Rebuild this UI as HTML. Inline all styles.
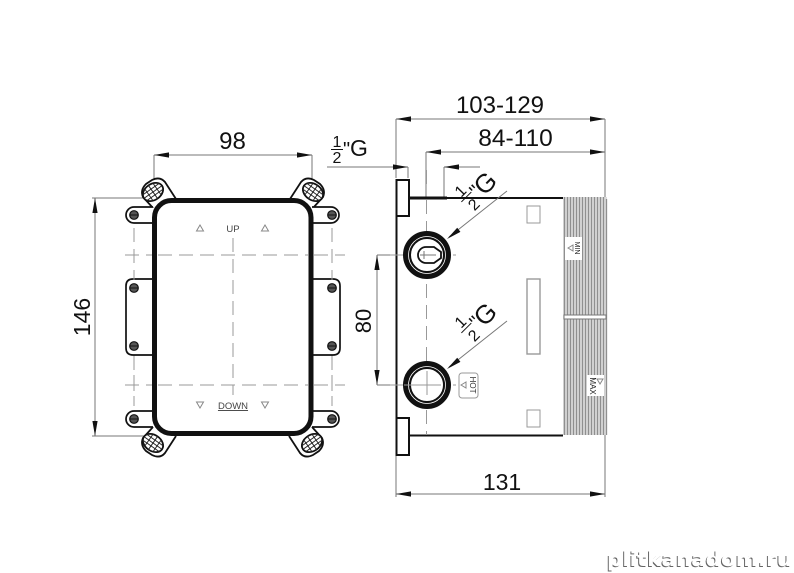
<!DOCTYPE html>
<html><head><meta charset="utf-8"><style>
html,body{margin:0;padding:0;background:#fff}
svg{display:block}
text{font-family:"Liberation Sans",sans-serif;fill:#111}
.g{stroke:#777;stroke-width:1;fill:none}
.d{stroke:#999;stroke-width:1;fill:none;stroke-dasharray:14 7}
.t{stroke:#888;stroke-width:1;fill:#fff}
</style></head><body>
<svg width="794" height="573" viewBox="0 0 794 573" xmlns="http://www.w3.org/2000/svg">
<defs>
<g id="br">
<path d="M153 208L143 197Q140 190 146 184L152 180Q160 176 165 182L176 199" fill="#fff" stroke="#111" stroke-width="1.800"/>
<g transform="translate(153 192) rotate(-35)">
<ellipse rx="11" ry="8" fill="#fff" stroke="#111" stroke-width="1.800"/>
<path d="M-5-7V7M0-8V8M5-7V7M-10-3.500H10M-10 0H10M-10 3.500H10" stroke="#222" stroke-width="1" fill="none"/>
</g>
</g>
<g id="sc"><circle r="4.300" fill="#555" stroke="#111" stroke-width="1.200"/><path d="M-4 0H4" stroke="#111" stroke-width="1"/></g>
<path id="ar" d="M0 0L15-2.600V2.600Z" fill="#111"/>
<g id="frac">
<text x="-4" y="-7" font-size="16" text-anchor="middle">1</text>
<path d="M-11-4H3" stroke="#111"/>
<text x="-4" y="12" font-size="16" text-anchor="middle">2</text>
<text x="3" y="5" font-size="20">"</text>
<text x="9" y="8.500" font-size="26">G</text>
</g>
</defs>
<rect width="794" height="573" fill="#fff"/>

<!-- LEFT VIEW dims -->
<path class="g" d="M154 155V184M312 155V184M154 155H312M92 198H150M92 436H150M95 198V436"/>
<use href="#ar" x="154" y="155"/><use href="#ar" transform="translate(312 155) rotate(180)"/>
<use href="#ar" transform="translate(95 198) rotate(90)"/><use href="#ar" transform="translate(95 436) rotate(-90)"/>
<text x="232.500" y="149" font-size="24" text-anchor="middle">98</text>
<text transform="translate(90 317) rotate(-90)" font-size="23" text-anchor="middle">146</text>

<!-- centre lines -->
<path class="d" d="M125 255H345M125 385H345"/>
<path class="d" d="M134 228V406M332 228V406M233 238V395"/>

<!-- brackets -->
<use href="#br"/>
<use href="#br" transform="translate(466 0) scale(-1 1)"/>
<use href="#br" transform="translate(0 635) scale(1 -1)"/>
<use href="#br" transform="translate(465 635) scale(-1 -1)"/>

<!-- lugs -->
<g fill="#fff" stroke="#111" stroke-width="1.700">
<path d="M153 207H134A8 8 0 0 0 134 223H153"/>
<path d="M153 279H133Q126 279 126 286V348Q126 355 133 355H153"/>
<path d="M153 411H134A8 8 0 0 0 134 427H153"/>
<path d="M312 207H331A8 8 0 0 1 331 223H312"/>
<path d="M312 279H333Q340 279 340 286V348Q340 355 333 355H312"/>
<path d="M312 411H331A8 8 0 0 1 331 427H312"/>
</g>
<path class="d" d="M134 228V280M134 356V406M332 228V280M332 356V406"/>
<use href="#sc" x="134" y="215"/><use href="#sc" x="134" y="288"/><use href="#sc" x="134" y="346"/><use href="#sc" x="134" y="419"/>
<use href="#sc" x="332" y="215"/><use href="#sc" x="332" y="288"/><use href="#sc" x="332" y="346"/><use href="#sc" x="332" y="419"/>

<!-- panel -->
<rect x="154.500" y="200.500" width="156.500" height="233" rx="17" fill="#fff" stroke="#111" stroke-width="5"/>
<path class="d" d="M158 255H308M158 385H308M233 238V395"/>
<path class="t" d="M200 225L203.500 231H196.500ZM265 225L268.500 231H261.500ZM200 408L203.500 402H196.500ZM265 408L268.500 402H261.500Z"/>
<text x="233" y="232" font-size="9.500" text-anchor="middle" style="fill:#444">UP</text>
<text x="233" y="409" font-size="9.500" text-anchor="middle" style="fill:#444;text-decoration:underline">DOWN</text>

<!-- RIGHT VIEW dims -->
<path class="g" d="M396 119V178M605 119V197M396 119H605M426 152V197M426 152H605M444 167V197M444 167H480M327 167H408M408 167V178M396 455V497M605 435V497M396 494H605M377 255H404M377 385H404M377 255V385"/>
<use href="#ar" x="396" y="119"/><use href="#ar" transform="translate(605 119) rotate(180)"/>
<use href="#ar" x="426" y="152"/><use href="#ar" transform="translate(605 152) rotate(180)"/>
<use href="#ar" x="444" y="167"/><use href="#ar" transform="translate(408 167) rotate(180)"/>
<use href="#ar" x="396" y="494"/><use href="#ar" transform="translate(605 494) rotate(180)"/>
<use href="#ar" transform="translate(377 255) rotate(90)"/><use href="#ar" transform="translate(377 385) rotate(-90)"/>
<text x="500" y="113" font-size="24" text-anchor="middle">103-129</text>
<text x="515.500" y="146" font-size="24.500" text-anchor="middle">84-110</text>
<text x="502" y="490" font-size="23" text-anchor="middle">131</text>
<text transform="translate(371 321) rotate(-90)" font-size="22" text-anchor="middle">80</text>

<!-- 1/2 G top-left -->
<text x="337" y="147" font-size="16" text-anchor="middle">1</text>
<path d="M331 149.500H343" stroke="#111" stroke-width="1"/>
<text x="337" y="163" font-size="16" text-anchor="middle">2</text>
<text x="343" y="156" font-size="20">"</text>
<text x="350" y="156" font-size="23">G</text>

<!-- threads -->
<rect x="563" y="197" width="44" height="238" fill="#dcdcdc"/>
<g stroke="#8f8f8f" stroke-width="1.300">
<path d="M564.500 197V435M567.500 197V435M570.500 197V435M573.500 197V435M576.500 197V435M579.500 197V435M582.500 197V435M585.500 197V435M588.500 197V435M591.500 197V435M594.500 197V435M597.500 197V435M600.500 197V435M603.500 197V435M606.500 199V435"/>
</g>
<rect x="564" y="315" width="42" height="4" fill="#fff" stroke="#777" stroke-width="1"/>
<rect x="565" y="237" width="17" height="23" fill="#fff"/>
<rect x="587" y="375" width="17" height="21" fill="#fff"/>
<path class="t" d="M568 248L573 245V251Z"/>
<path class="t" d="M600 384L597 379H603Z"/>
<text transform="translate(575 248) rotate(90)" font-size="7" style="fill:#222" text-anchor="middle">MIN</text>
<text transform="translate(590 386) rotate(90)" font-size="8" style="fill:#222" text-anchor="middle">MAX</text>

<!-- body -->
<path d="M409 198H447" stroke="#111" stroke-width="3" fill="none"/>
<path d="M447 198H563M409 435.500H563" stroke="#111" stroke-width="2" fill="none"/>
<path d="M396.500 180V455" stroke="#111" stroke-width="2" fill="none"/>
<rect x="396.500" y="180" width="12.500" height="36" fill="#fff" stroke="#111" stroke-width="2"/>
<rect x="396.500" y="418" width="12.500" height="37" fill="#fff" stroke="#111" stroke-width="2"/>

<rect x="527" y="206" width="13" height="17" fill="none" stroke="#999" stroke-width="1"/>
<rect x="527" y="279" width="13" height="75" fill="none" stroke="#999" stroke-width="1.400"/>
<rect x="527" y="410" width="13" height="17" fill="none" stroke="#999" stroke-width="1"/>

<!-- port centre lines -->
<path class="d" d="M426.500 170V190M426.500 200V435M390 255H456M390 385H456"/>

<!-- ports -->
<circle cx="427" cy="255" r="20" fill="#fff" stroke="#111" stroke-width="8"/>
<circle cx="427" cy="255" r="18.500" fill="none" stroke="#fff" stroke-width="0.800"/>
<path d="M426 247H434L441 252V258L434 263H426A8 8 0 0 1 426 247Z" fill="#fff" stroke="#111" stroke-width="1.800"/>
<path d="M424 251V259M420 255H436" stroke="#777" stroke-width="1"/>

<circle cx="427" cy="385" r="20" fill="#fff" stroke="#111" stroke-width="8"/>
<circle cx="427" cy="385" r="18.500" fill="none" stroke="#fff" stroke-width="0.800"/>
<path d="M404 385H441M427 371V395" stroke="#999" stroke-width="1"/>

<!-- HOT -->
<rect x="459" y="373" width="19" height="25" rx="3" fill="#fff" stroke="#999" stroke-width="1"/>
<path class="t" d="M461 385L466 382V388Z"/>
<text transform="translate(470 385) rotate(90)" font-size="8" style="fill:#333" text-anchor="middle">HOT</text>

<!-- leaders -->
<path d="M507 191L449 237M507 321L449 367" stroke="#777" stroke-width="1" fill="none"/>
<use href="#ar" transform="translate(447 239) rotate(-38)"/>
<use href="#ar" transform="translate(447 369) rotate(-38)"/>

<!-- rotated 1/2 G -->
<use href="#frac" transform="translate(472 197) rotate(-45)"/>
<use href="#frac" transform="translate(472 328) rotate(-45)"/>

<!-- watermark -->
<text x="606" y="567" font-size="20" font-weight="bold" textLength="185" lengthAdjust="spacingAndGlyphs" style="font-family:'DejaVu Sans',sans-serif;fill:#666">plitkanadom.ru</text>
<text x="607" y="566" font-size="20" font-weight="bold" textLength="185" lengthAdjust="spacingAndGlyphs" style="font-family:'DejaVu Sans',sans-serif;fill:#fff">plitkanadom.ru</text>
</svg>
</body></html>
